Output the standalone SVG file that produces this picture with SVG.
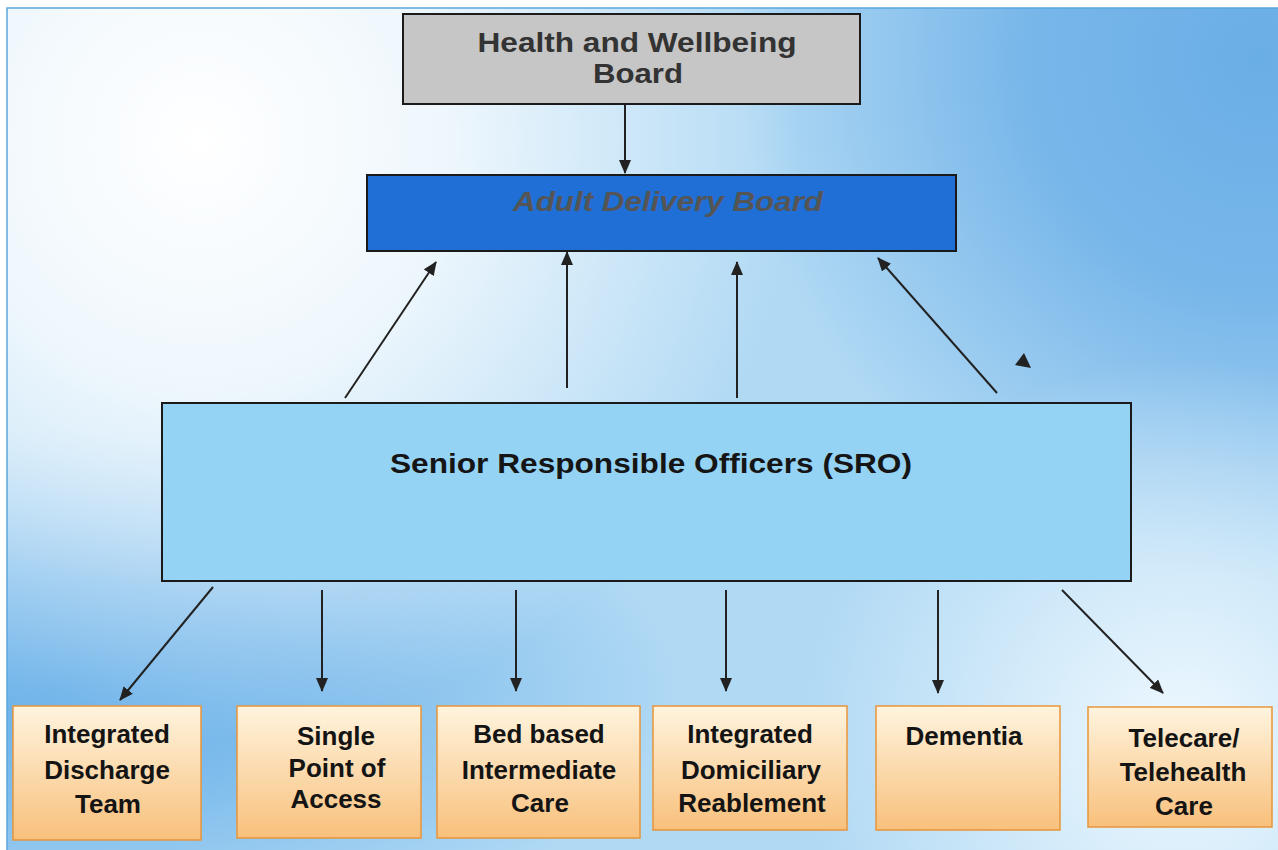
<svg xmlns="http://www.w3.org/2000/svg" width="1278" height="850" viewBox="0 0 1278 850">
  <defs>
    <radialGradient id="bgWhite" cx="200" cy="140" r="600" gradientUnits="userSpaceOnUse">
      <stop offset="0" stop-color="#ffffff" stop-opacity="1"/>
      <stop offset="0.4" stop-color="#ffffff" stop-opacity="0.8"/>
      <stop offset="1" stop-color="#ffffff" stop-opacity="0"/>
    </radialGradient>
    <radialGradient id="bgBlueTR" cx="1260" cy="60" r="520" gradientUnits="userSpaceOnUse">
      <stop offset="0" stop-color="#6aaee7" stop-opacity="1"/>
      <stop offset="0.45" stop-color="#6aaee7" stop-opacity="0.8"/>
      <stop offset="1" stop-color="#6aaee7" stop-opacity="0"/>
    </radialGradient>
    <radialGradient id="bgBlueBL" cx="0" cy="0" r="1" gradientUnits="userSpaceOnUse" gradientTransform="translate(60 690) scale(620 260)">
      <stop offset="0" stop-color="#6cb2e9" stop-opacity="1"/>
      <stop offset="0.4" stop-color="#6cb2e9" stop-opacity="0.75"/>
      <stop offset="1" stop-color="#6cb2e9" stop-opacity="0"/>
    </radialGradient>
    <radialGradient id="bgLight" cx="1180" cy="740" r="380" gradientUnits="userSpaceOnUse">
      <stop offset="0" stop-color="#f2faff" stop-opacity="0.95"/>
      <stop offset="1" stop-color="#f2faff" stop-opacity="0"/>
    </radialGradient>
    <linearGradient id="orange" x1="0" y1="0" x2="0" y2="1">
      <stop offset="0" stop-color="#fff4de"/>
      <stop offset="1" stop-color="#f8c07c"/>
    </linearGradient>
    <marker id="arrow" viewBox="0 0 14 12" refX="13" refY="6" markerWidth="14" markerHeight="12" markerUnits="userSpaceOnUse" orient="auto">
      <path d="M0,0 L14,6 L0,12 Z" fill="#222"/>
    </marker>
    <style>
      .edge { stroke: #222; stroke-width: 2; fill: none; marker-end: url(#arrow); }
      .box { stroke: #1a1a1a; stroke-width: 2; }
      .obox { fill: url(#orange); stroke: #e8953a; stroke-width: 1.5; }
      .t { font-family: "Liberation Sans", Arial, sans-serif; font-weight: bold; text-anchor: middle; }
      .bt { font-size: 26px; fill: #141414; }
    </style>
  </defs>

  <!-- background -->
  <rect x="0" y="0" width="1278" height="850" fill="#ffffff"/>
  <rect x="7" y="8" width="1271" height="842" fill="#b0d9f4"/>
  <rect x="7" y="8" width="1271" height="842" fill="url(#bgBlueTR)"/>
  <rect x="7" y="8" width="1271" height="842" fill="url(#bgBlueBL)"/>
  <rect x="7" y="8" width="1271" height="842" fill="url(#bgWhite)"/>
  <rect x="7" y="8" width="1271" height="842" fill="url(#bgLight)"/>
  <path d="M7,850 V8 H1278" fill="none" stroke="#5aa6e0" stroke-width="1.5"/>

  <!-- connectors -->
  <g id="connectors">
    <line class="edge" x1="625" y1="104" x2="625" y2="173"/>
    <line class="edge" x1="345" y1="398" x2="436" y2="262"/>
    <line class="edge" x1="567" y1="388" x2="567" y2="252"/>
    <line class="edge" x1="737" y1="398" x2="737" y2="262"/>
    <line class="edge" x1="997" y1="393" x2="878" y2="258"/>
    <polygon points="1015,365 1024,353 1031,368" fill="#222"/>
    <line class="edge" x1="213" y1="587" x2="120" y2="700"/>
    <line class="edge" x1="322" y1="590" x2="322" y2="691"/>
    <line class="edge" x1="516" y1="590" x2="516" y2="691"/>
    <line class="edge" x1="726" y1="590" x2="726" y2="691"/>
    <line class="edge" x1="938" y1="590" x2="938" y2="693"/>
    <line class="edge" x1="1062" y1="590" x2="1163" y2="693"/>
  </g>

  <g id="hwb">
    <rect class="box" x="403" y="14" width="457" height="90" fill="#c6c6c6"/>
    <text class="t" x="637" y="52" font-size="28" fill="#333" textLength="319" lengthAdjust="spacingAndGlyphs">Health and Wellbeing</text>
    <text class="t" x="638" y="83" font-size="28" fill="#333" textLength="90" lengthAdjust="spacingAndGlyphs">Board</text>
  </g>

  <g id="adb">
    <rect class="box" x="367" y="175" width="589" height="76" fill="#1f6fd6"/>
    <text class="t" x="668" y="211" font-size="28" font-style="italic" fill="#555" textLength="310" lengthAdjust="spacingAndGlyphs">Adult Delivery Board</text>
  </g>

  <g id="sro">
    <rect class="box" x="162" y="403" width="969" height="178" fill="#95d3f5"/>
    <text class="t" x="651" y="473" font-size="28" fill="#151515" textLength="522" lengthAdjust="spacingAndGlyphs">Senior Responsible Officers (SRO)</text>
  </g>

  <g id="idt">
    <rect class="obox" x="13" y="706" width="188" height="134"/>
    <text class="t bt" x="107" y="743">Integrated</text>
    <text class="t bt" x="107" y="779">Discharge</text>
    <text class="t bt" x="108" y="813">Team</text>
  </g>

  <g id="spa">
    <rect class="obox" x="237" y="706" width="184" height="132"/>
    <text class="t bt" x="336" y="745">Single</text>
    <text class="t bt" x="337" y="777">Point of</text>
    <text class="t bt" x="336" y="808">Access</text>
  </g>

  <g id="bbic">
    <rect class="obox" x="437" y="706" width="203" height="132"/>
    <text class="t bt" x="539" y="743">Bed based</text>
    <text class="t bt" x="539" y="779">Intermediate</text>
    <text class="t bt" x="540" y="812">Care</text>
  </g>

  <g id="idr">
    <rect class="obox" x="653" y="706" width="194" height="124"/>
    <text class="t bt" x="750" y="743">Integrated</text>
    <text class="t bt" x="751" y="779">Domiciliary</text>
    <text class="t bt" x="752" y="812">Reablement</text>
  </g>

  <g id="dementia">
    <rect class="obox" x="876" y="706" width="184" height="124"/>
    <text class="t bt" x="964" y="745">Dementia</text>
  </g>

  <g id="tele">
    <rect class="obox" x="1088" y="707" width="184" height="120"/>
    <text class="t bt" x="1184" y="747">Telecare/</text>
    <text class="t bt" x="1183" y="781">Telehealth</text>
    <text class="t bt" x="1184" y="815">Care</text>
  </g>
</svg>
